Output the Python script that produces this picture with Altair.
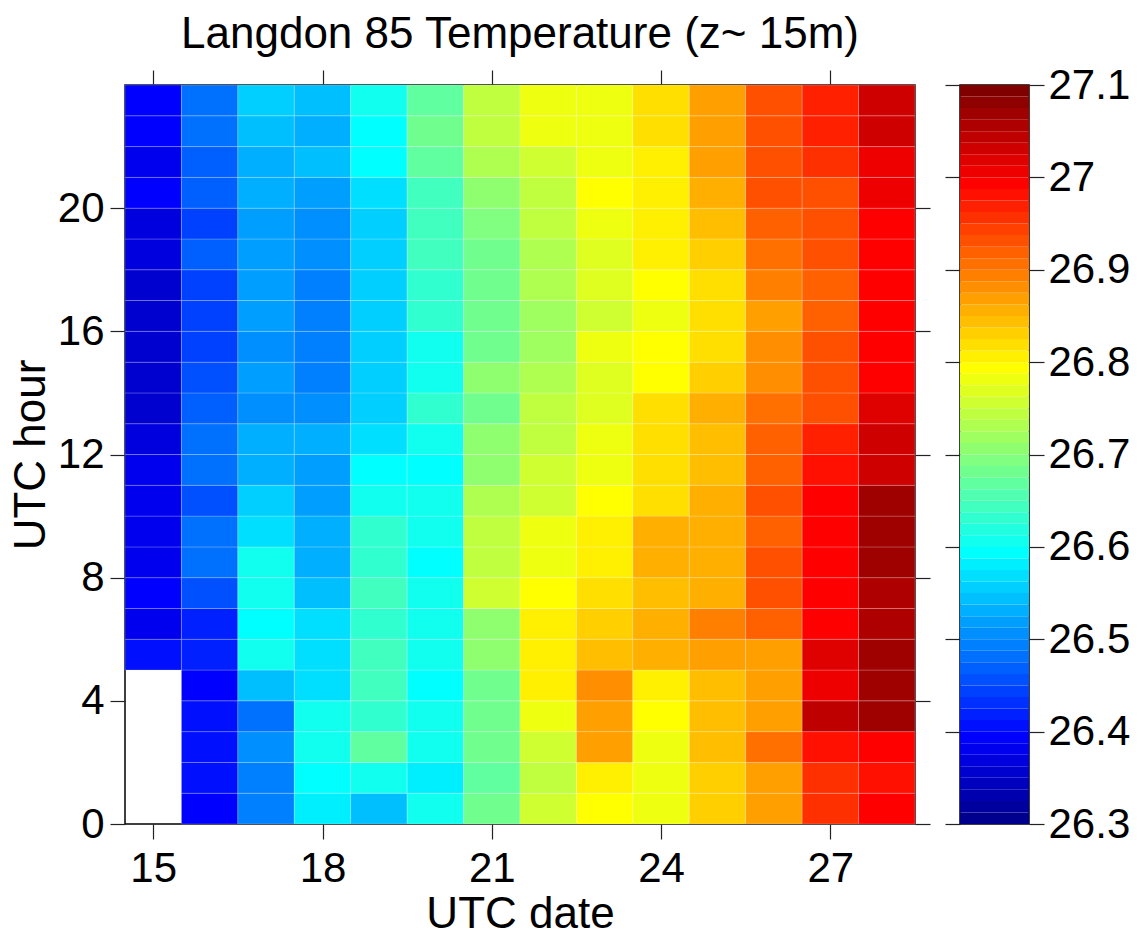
import altair as alt
import pandas as pd

# ---------------- data ----------------
dates = [15, 16, 17, 18, 19, 20, 21, 22, 23, 24, 25, 26, 27, 28]
hours = [0, 1, 2, 3, 4, 5, 6, 7, 8, 9, 10, 11, 12, 13, 14, 15, 16, 17, 18, 19, 20, 21, 22, 23]

# temperature per date, hour 0 .. 23 (None = no data)
t15 = [None, None, None, None, None, 26.405, 26.38, 26.39, 26.385, 26.385, 26.38, 26.38,
       26.37, 26.36, 26.35, 26.35, 26.35, 26.36, 26.37, 26.37, 26.39, 26.38, 26.39, 26.39]
t16 = [26.395, 26.40, 26.40, 26.40, 26.395, 26.415, 26.424, 26.455, 26.486, 26.486, 26.455, 26.486,
       26.48, 26.47, 26.455, 26.44, 26.443, 26.44, 26.463, 26.447, 26.47, 26.47, 26.486, 26.486]
t17 = [26.498, 26.494, 26.502, 26.486, 26.549, 26.60, 26.588, 26.612, 26.60, 26.573, 26.561, 26.537,
       26.53, 26.51, 26.52, 26.51, 26.52, 26.52, 26.52, 26.52, 26.537, 26.533, 26.549, 26.561]
t18 = [26.576, 26.588, 26.60, 26.60, 26.573, 26.573, 26.565, 26.549, 26.533, 26.533, 26.52, 26.52,
       26.53, 26.51, 26.494, 26.494, 26.494, 26.494, 26.51, 26.51, 26.52, 26.549, 26.537, 26.549]
t19 = [26.549, 26.612, 26.67, 26.63, 26.65, 26.64, 26.63, 26.65, 26.625, 26.625, 26.612, 26.596,
       26.573, 26.561, 26.561, 26.561, 26.561, 26.561, 26.561, 26.561, 26.573, 26.588, 26.588, 26.60]
t20 = [26.60, 26.584, 26.60, 26.612, 26.592, 26.612, 26.612, 26.612, 26.596, 26.612, 26.612, 26.596,
       26.612, 26.625, 26.612, 26.60, 26.625, 26.625, 26.638, 26.65, 26.65, 26.663, 26.675, 26.663]
t21 = [26.675, 26.663, 26.675, 26.675, 26.675, 26.702, 26.702, 26.753, 26.741, 26.741, 26.729, 26.702,
       26.702, 26.686, 26.702, 26.675, 26.675, 26.675, 26.686, 26.698, 26.71, 26.737, 26.741, 26.741]
t22 = [26.753, 26.741, 26.753, 26.776, 26.80, 26.80, 26.80, 26.788, 26.776, 26.776, 26.753, 26.753,
       26.741, 26.741, 26.725, 26.714, 26.714, 26.729, 26.729, 26.741, 26.741, 26.753, 26.776, 26.776]
t23 = [26.788, 26.80, 26.875, 26.863, 26.878, 26.839, 26.831, 26.82, 26.80, 26.80, 26.788, 26.776,
       26.776, 26.765, 26.765, 26.776, 26.753, 26.765, 26.765, 26.776, 26.788, 26.776, 26.776, 26.776]
t24 = [26.776, 26.776, 26.776, 26.788, 26.80, 26.855, 26.859, 26.839, 26.859, 26.859, 26.82, 26.82,
       26.82, 26.82, 26.795, 26.788, 26.776, 26.795, 26.80, 26.80, 26.80, 26.80, 26.82, 26.82]
t25 = [26.827, 26.827, 26.839, 26.839, 26.839, 26.863, 26.89, 26.851, 26.851, 26.851, 26.851, 26.839,
       26.839, 26.851, 26.827, 26.816, 26.816, 26.816, 26.827, 26.839, 26.851, 26.863, 26.875, 26.875]
t26 = [26.875, 26.875, 26.902, 26.863, 26.875, 26.875, 26.914, 26.937, 26.937, 26.922, 26.937, 26.914,
       26.914, 26.902, 26.886, 26.882, 26.875, 26.89, 26.902, 26.914, 26.925, 26.937, 26.937, 26.937]
t27 = [26.953, 26.953, 26.976, 27.043, 27.008, 27.016, 26.988, 27.00, 26.988, 26.988, 26.988, 26.976,
       26.965, 26.937, 26.925, 26.925, 26.914, 26.914, 26.925, 26.937, 26.937, 26.953, 26.965, 26.965]
t28 = [26.988, 26.976, 26.988, 27.063, 27.063, 27.063, 27.051, 27.051, 27.063, 27.063, 27.063, 27.035,
       27.027, 27.02, 27.00, 26.988, 26.988, 26.988, 26.988, 26.988, 27.012, 27.012, 27.027, 27.027]

columns = [t15, t16, t17, t18, t19, t20, t21, t22, t23, t24, t25, t26, t27, t28]

x_ticks = [15, 18, 21, 24, 27]
y_ticks = [0, 4, 8, 12, 16, 20]
cbar_ticks = [26.3, 26.4, 26.5, 26.6, 26.7, 26.8, 26.9, 27.0, 27.1]
cmin, cmax = 26.3, 27.1

# ---------------- MATLAB jet(64) colormap ----------------
def jet(m=64):
    n = -(-m // 4)
    u = [i / n for i in range(1, n + 1)] + [1.0] * (n - 1) + [i / n for i in range(n, 0, -1)]
    g0 = -(-n // 2) - (1 if m % 4 == 1 else 0)
    R, G, B = [0.0] * m, [0.0] * m, [0.0] * m
    for k, uk in enumerate(u):
        gi = g0 + k
        ri, bi = gi + n, gi - n
        if 0 <= gi < m:
            G[gi] = uk
        if 0 <= ri < m:
            R[ri] = uk
        if 0 <= bi < m:
            B[bi] = uk
    return ["#%02x%02x%02x" % (round(r * 255), round(g * 255), round(b * 255)) for r, g, b in zip(R, G, B)]

jet64 = jet(64)

rows = []
for d, col in zip(dates, columns):
    for h, v in zip(hours, col):
        if v is not None:
            rows.append({"date": d, "hour": h, "temp": v})
df = pd.DataFrame(rows)

step = (cmax - cmin) / len(jet64)
cb_df = pd.DataFrame({
    "lo": [cmin + i * step for i in range(len(jet64))],
    "hi": [cmin + (i + 1) * step for i in range(len(jet64))],
})
cb_df["mid"] = (cb_df["lo"] + cb_df["hi"]) / 2
cb_df["c0"] = 0.0
cb_df["c1"] = 1.0

FONT = "Liberation Sans"
TICK = 15

xscale = alt.Scale(domain=[14.5, 28.5], nice=False, zero=False)
yscale = alt.Scale(domain=[0, 24], nice=False, zero=False)
cscale = alt.Scale(type="quantize", domain=[cmin, cmax], range=jet64, nice=False)

base = alt.Chart(df).transform_calculate(
    x0="datum.date - 0.5", x1="datum.date + 0.5", y1="datum.hour + 1"
)

cells = base.mark_rect(stroke="white", strokeWidth=0.6, strokeOpacity=0.35).encode(
    x=alt.X("x0:Q", scale=xscale,
            axis=alt.Axis(values=x_ticks, title="UTC date", orient="bottom",
                          labelPadding=9, titlePadding=3)),
    x2="x1:Q",
    y=alt.Y("hour:Q", scale=yscale,
            axis=alt.Axis(values=y_ticks, title="UTC hour", orient="left",
                          labelPadding=6, titlePadding=4)),
    y2="y1:Q",
    color=alt.Color("temp:Q", scale=cscale, legend=None),
)

mirror = base.mark_rect(opacity=0).encode(
    x=alt.X("x0:Q", scale=xscale,
            axis=alt.Axis(values=x_ticks, orient="top", labels=False, title=None)),
    x2="x1:Q",
    y=alt.Y("hour:Q", scale=yscale,
            axis=alt.Axis(values=y_ticks, orient="right", labels=False, title=None)),
    y2="y1:Q",
)

heat = alt.layer(cells, mirror).resolve_axis(x="independent", y="independent").properties(
    width=790, height=739,
    title=alt.Title("Langdon 85 Temperature (z~ 15m)", font=FONT, fontSize=44,
                    fontWeight="normal", color="black", anchor="middle", offset=12),
)

cbscale = alt.Scale(domain=[cmin, cmax], nice=False, zero=False)
cbx = alt.Scale(domain=[0, 1], nice=False, zero=False)
cb_base = alt.Chart(cb_df)
cb_rects = cb_base.mark_rect().encode(
    x=alt.X("c0:Q", scale=cbx, axis=None), x2="c1:Q",
    y=alt.Y("lo:Q", scale=cbscale,
            axis=alt.Axis(values=cbar_ticks, orient="right", format=".1~f", title=None,
                          labelPadding=4)),
    y2="hi:Q",
    color=alt.Color("mid:Q", scale=cscale, legend=None),
)
cb_left = cb_base.mark_rect(opacity=0).encode(
    x=alt.X("c0:Q", scale=cbx, axis=None), x2="c1:Q",
    y=alt.Y("lo:Q", scale=cbscale,
            axis=alt.Axis(values=cbar_ticks, orient="left", labels=False, title=None)),
    y2="hi:Q",
)
cbar = alt.layer(cb_rects, cb_left).resolve_axis(y="independent").properties(width=69, height=739)

chart = alt.hconcat(heat, cbar, spacing=11).properties(
    padding={"left": 8, "top": 12, "right": 5, "bottom": 5},
    background="white",
).configure_view(
    stroke="black", strokeWidth=1.5
).configure_axis(
    grid=False, domain=False, ticks=True, tickSize=TICK, tickWidth=1.2, tickColor="#222222",
    labelFont=FONT, labelFontSize=42, labelColor="black",
    titleFont=FONT, titleFontSize=44, titleFontWeight="normal", titleColor="black",
    labelFlush=False, labelOverlap=False,
)

chart.save("out.html", embed_options={"renderer": "svg", "actions": False})
